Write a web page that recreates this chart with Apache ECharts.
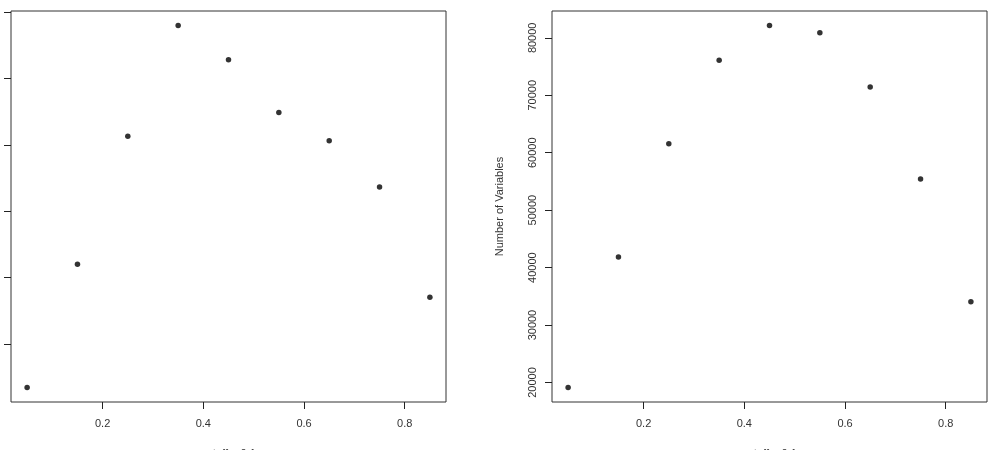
<!DOCTYPE html>
<html>
<head>
<meta charset="utf-8">
<script src="https://cdn.jsdelivr.net/npm/echarts@6/dist/echarts.min.js"></script>
<style>
html,body{margin:0;padding:0;background:#fff;}
#chart{width:994px;height:450px;}
</style>
</head>
<body>
<div id="chart"></div>
<script>
// x positions (shared)
const xValues = [0.05, 0.15, 0.25, 0.35, 0.45, 0.55, 0.65, 0.75, 0.85];
// left panel values (axis labels not visible in reference; relative units)
const leftValues = [0.347, 2.201, 4.130, 5.797, 5.280, 4.486, 4.060, 3.366, 1.704];
const leftTicks = [1, 2, 3, 4, 5, 6];
// right panel: Number of Variables
const rightValues = [19128, 41856, 61566, 76096, 82148, 80875, 71456, 55408, 34059];
const rightTicks = [20000, 30000, 40000, 50000, 60000, 70000, 80000];
const xTicks = [0.2, 0.4, 0.6, 0.8];
const xLabel = 'cutoff + 0.1';
const rightYLabel = 'Number of Variables';

function rRange(arr){
  const mn = Math.min(...arr), mx = Math.max(...arr);
  const d = (mx - mn) * 0.04;
  return [mn - d, mx + d];
}
const xr = rRange(xValues);
const lr = rRange(leftValues);
const rr = rRange(rightValues);

const font = '"Liberation Sans", Arial, sans-serif';

function xAxis(gi){
  return {
    gridIndex: gi, type:'value', min: xr[0], max: xr[1],
    axisLine:{show:false}, splitLine:{show:false},
    axisTick:{show:true, length:7, lineStyle:{color:'#222'}, customValues:xTicks},
    axisLabel:{customValues:xTicks, fontFamily:font, fontSize:11, color:'#333', margin:16,
      formatter: v => v.toFixed(1)},
    name: xLabel, nameLocation:'middle', nameGap:46,
    nameTextStyle:{fontFamily:font, fontSize:11, color:'#333'}
  };
}

const chart = echarts.init(document.getElementById('chart'), null, {renderer:'canvas'});
chart.setOption({
  animation:false,
  backgroundColor:'#fff',
  grid:[
    {left:11, top:11, width:435, height:391, show:true, borderColor:'#333', borderWidth:1, backgroundColor:'transparent', outerBoundsMode:'none', containLabel:false},
    {left:552, top:11, width:435, height:391, show:true, borderColor:'#333', borderWidth:1, backgroundColor:'transparent', outerBoundsMode:'none', containLabel:false}
  ],
  xAxis:[xAxis(0), xAxis(1)],
  yAxis:[
    {gridIndex:0, type:'value', min:lr[0], max:lr[1],
     axisLine:{show:false}, splitLine:{show:false},
     axisTick:{show:true, length:7, lineStyle:{color:'#222'}, customValues:leftTicks},
     axisLabel:{show:false, customValues:leftTicks}},
    {gridIndex:1, type:'value', min:rr[0], max:rr[1],
     axisLine:{show:false}, splitLine:{show:false},
     axisTick:{show:true, length:7, lineStyle:{color:'#222'}, customValues:rightTicks},
     axisLabel:{customValues:rightTicks, rotate:90, fontFamily:font, fontSize:11, color:'#333', margin:14,
       formatter: v => String(Math.round(v))},
     name: rightYLabel, nameLocation:'middle', nameGap:47, nameRotate:90,
     nameTextStyle:{fontFamily:font, fontSize:11, color:'#333'}}
  ],
  series:[
    {type:'scatter', xAxisIndex:0, yAxisIndex:0, symbol:'circle', symbolSize:5.5,
     itemStyle:{color:'#000'}, data: xValues.map((x,i)=>[x, leftValues[i]])},
    {type:'scatter', xAxisIndex:1, yAxisIndex:1, symbol:'circle', symbolSize:5.5,
     itemStyle:{color:'#000'}, data: xValues.map((x,i)=>[x, rightValues[i]])}
  ]
});
</script>
</body>
</html>
